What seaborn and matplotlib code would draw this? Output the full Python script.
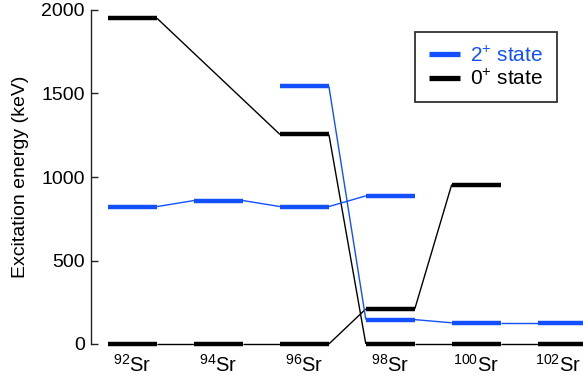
import numpy as np
import pandas as pd
import matplotlib
matplotlib.use("Agg")
import matplotlib.pyplot as plt
import matplotlib.transforms as mtransforms
from matplotlib.lines import Line2D
import seaborn as sns

# Strontium isotopes (mass numbers) along the chain
mass_numbers = ["92", "94", "96", "98", "100", "102"]

# Level energies in keV; None where the level is not shown
two_plus_spherical = [823, 859, 823, 887, None, None]
two_plus_deformed = [None, None, 1544, 146, 127, 127]
zero_plus_spherical = [0, 0, 0, 210, 955, None]
zero_plus_deformed = [1950, None, 1255, 0, 0, 0]

BLUE = "#1250ff"
BLACK = "#000000"
HALF_W = 0.285  # half width of a level bar, in isotope-slot units

sns.set_theme(style="white")
plt.rcParams["font.family"] = ["Liberation Sans", "DejaVu Sans"]
plt.rcParams["mathtext.fontset"] = "custom"
plt.rcParams["mathtext.rm"] = "Liberation Sans"
plt.rcParams["mathtext.it"] = "Liberation Sans:italic"
plt.rcParams["mathtext.bf"] = "Liberation Sans:bold"
for key in ["text.color", "axes.labelcolor", "xtick.color", "ytick.color"]:
    plt.rcParams[key] = "black"

bands = [
    ("2+", "a", two_plus_spherical),
    ("2+", "b", two_plus_deformed),
    ("0+", "a", zero_plus_spherical),
    ("0+", "b", zero_plus_deformed),
]

bar_rows, link_rows = [], []
for state, tag, energies in bands:
    pts = [(i, e) for i, e in enumerate(energies) if e is not None]
    for i, e in pts:
        lid = f"{state}{tag}{i}"
        bar_rows += [dict(x=i - HALF_W, energy=e, level=lid, state=state),
                     dict(x=i + HALF_W, energy=e, level=lid, state=state)]
    for (i0, e0), (i1, e1) in zip(pts[:-1], pts[1:]):
        lid = f"{state}{tag}{i0}-{i1}"
        link_rows += [dict(x=i0 + HALF_W, energy=e0, level=lid, state=state),
                      dict(x=i1 - HALF_W, energy=e1, level=lid, state=state)]

bars = pd.DataFrame(bar_rows)
links = pd.DataFrame(link_rows)
palette = {"2+": BLUE, "0+": BLACK}

fig = plt.figure(figsize=(5.83, 3.81), dpi=100)
ax = fig.add_axes([91 / 583, 1 - 344 / 381, 1 - 91 / 583, (344 - 10) / 381])

sns.lineplot(data=links, x="x", y="energy", units="level", hue="state",
             hue_order=["0+", "2+"], palette=palette, estimator=None,
             sort=False, lw=1.0, legend=False, ax=ax)
sns.lineplot(data=bars, x="x", y="energy", units="level", hue="state",
             hue_order=["0+", "2+"], palette=palette, estimator=None,
             sort=False, lw=3.2, legend=False, ax=ax)
for ln in ax.lines:
    ln.set_clip_on(False)
    ln.set_solid_capstyle("butt")

ax.set_xlim(-0.484, 5.243)
ax.set_ylim(0, 2000)
ax.set_yticks([0, 500, 1000, 1500, 2000])
ax.set_xticks(range(len(mass_numbers)))
ax.set_xticklabels([rf"$^{{{m}}}$Sr" for m in mass_numbers], fontsize=14.5)
ax.tick_params(axis="x", length=0, pad=7)
ax.tick_params(axis="y", direction="in", length=5, width=1.0, pad=4.5,
               labelsize=14, color="#222222", left=True)
ax.set_xlabel("")
ax.set_ylabel("Excitation energy (keV)", fontsize=14, labelpad=9)

# keep the last isotope label inside the figure edge
last = ax.get_xticklabels()[-1]
last.set_transform(last.get_transform() +
                   mtransforms.ScaledTranslation(-4 / 100, 0, fig.dpi_scale_trans))

for side in ["top", "right", "bottom"]:
    ax.spines[side].set_visible(False)
ax.spines["left"].set_color("#222222")
ax.spines["left"].set_linewidth(1.0)

handles = [Line2D([], [], color=BLUE, lw=3.8, solid_capstyle="butt"),
           Line2D([], [], color=BLACK, lw=3.8, solid_capstyle="butt")]
leg = fig.legend(handles, [r"2$^{+}$ state", r"0$^{+}$ state"],
                 loc="upper left", bbox_to_anchor=(415 / 583, 1 - 32 / 381),
                 bbox_transform=fig.transFigure, fontsize=15, frameon=True,
                 fancybox=False, handlelength=1.5, handletextpad=0.5,
                 borderpad=0.65, labelspacing=0.15, borderaxespad=0)
leg.get_frame().set_edgecolor("black")
leg.get_frame().set_linewidth(1.3)
for txt, h in zip(leg.get_texts(), handles):
    txt.set_color(h.get_color())

fig.savefig("out.png", dpi=100)
